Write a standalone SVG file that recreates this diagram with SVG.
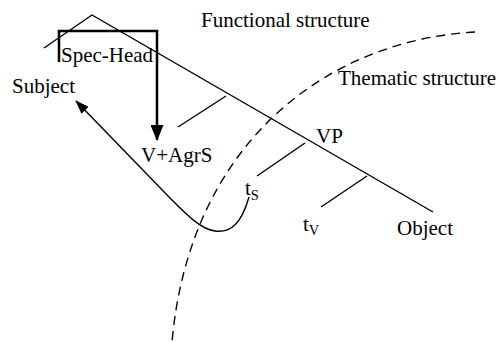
<svg xmlns="http://www.w3.org/2000/svg" width="499" height="342" viewBox="0 0 499 342">
<style>
text{font-family:"Liberation Serif","Times New Roman",serif;font-size:21px;fill:#000}
.sub{font-size:14.5px}
.ln{stroke:#000;stroke-width:1.4;fill:none}
</style>
<defs>
<marker id="ah" markerWidth="14" markerHeight="10" refX="13" refY="5" orient="auto" markerUnits="userSpaceOnUse">
<path d="M0,0 L14,5 L0,10 z" fill="#000"/>
</marker>
<marker id="ahb" markerWidth="16" markerHeight="13" refX="15" refY="6.5" orient="auto" markerUnits="userSpaceOnUse">
<path d="M0,0 L16,6.5 L0,13 z" fill="#000"/>
</marker>
</defs>
<rect width="499" height="342" fill="#fff"/>
<g id="connectors">
<path class="ln" d="M475,32 C330,40 190,140 172,342" stroke-dasharray="9,6"/>
<path class="ln" d="M44,48 L92,15 L433,212"/>
<path class="ln" d="M226,96 L178,127"/>
<path class="ln" d="M305,143 L257,176"/>
<path class="ln" d="M367,176 L321,207"/>
<path d="M59,62 L59,31 L157,31 L157,140" fill="none" stroke="#000" stroke-width="2.5" marker-end="url(#ahb)"/>
<path class="ln" d="M249,197 C241,225 230,233 215,231 C200,229 185,213 170,198 L76,101" marker-end="url(#ah)"/>
</g>
<g id="functional-structure"><text x="201" y="27">Functional structure</text></g>
<g id="thematic-structure"><text x="338" y="85">Thematic structure</text></g>
<g id="spec-head"><text x="61" y="62">Spec-Head</text></g>
<g id="subject"><text x="12" y="93">Subject</text></g>
<g id="v-agrs"><text x="141" y="162">V+AgrS</text></g>
<g id="vp"><text x="316" y="143">VP</text></g>
<g id="ts"><text x="245" y="195">t<tspan class="sub" dy="5">S</tspan></text></g>
<g id="tv"><text x="303" y="231">t<tspan class="sub" dy="4">V</tspan></text></g>
<g id="object"><text x="397" y="235">Object</text></g>
</svg>
